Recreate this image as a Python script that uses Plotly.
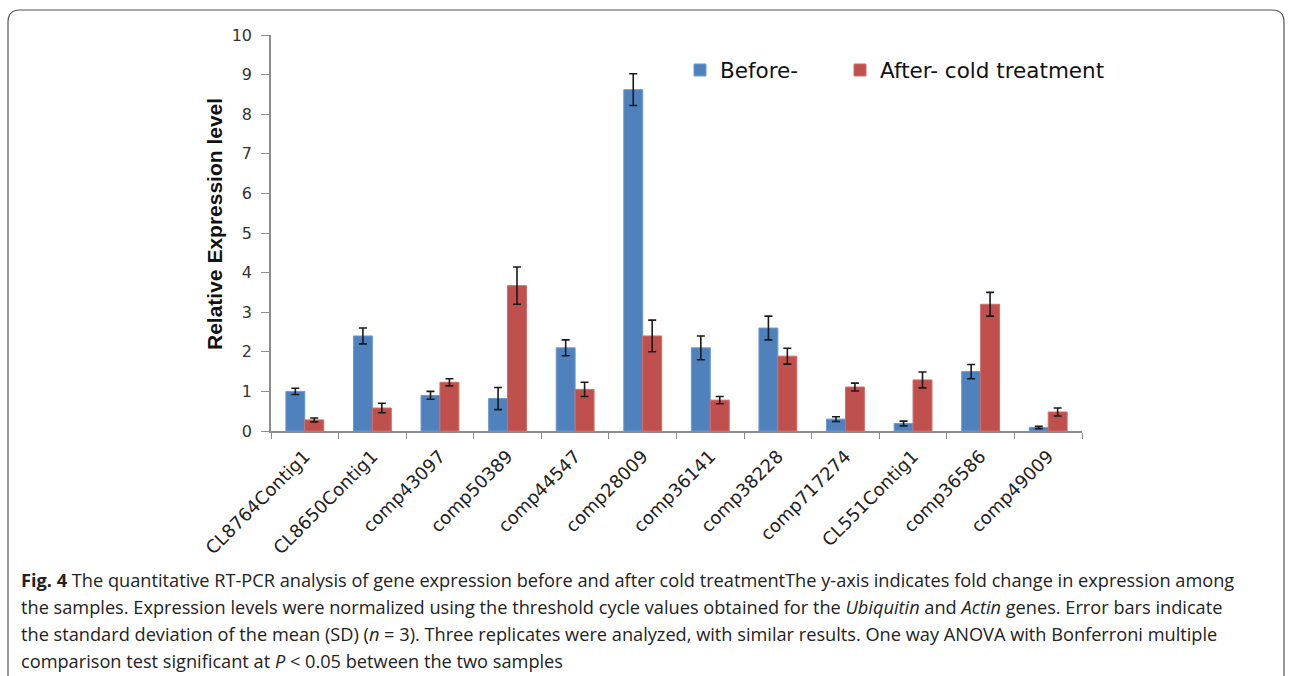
import plotly.graph_objects as go

# Genes and relative expression (mean ± SD, n = 3)
genes = ["CL8764Contig1", "CL8650Contig1", "comp43097", "comp50389", "comp44547",
         "comp28009", "comp36141", "comp38228", "comp717274", "CL551Contig1",
         "comp36586", "comp49009"]
before_vals = [1.0, 2.4, 0.9, 0.82, 2.1, 8.62, 2.1, 2.6, 0.3, 0.19, 1.5, 0.09]
before_sd = [0.08, 0.2, 0.1, 0.28, 0.2, 0.4, 0.3, 0.3, 0.06, 0.06, 0.18, 0.03]
after_vals = [0.28, 0.58, 1.23, 3.67, 1.05, 2.4, 0.78, 1.89, 1.11, 1.29, 3.2, 0.48]
after_sd = [0.05, 0.12, 0.09, 0.47, 0.18, 0.4, 0.09, 0.2, 0.1, 0.2, 0.3, 0.1]
y_ticks = list(range(0, 11))

W, H = 1292, 676
L, R, T, B = 271, 1082, 35, 431   # plot area in pixels
pw, ph = R - L, B - T


def px(x):
    return (x - L) / pw


def py(y):
    return 1 - (y - T) / ph


BLUE = "#4F81BD"
RED = "#C0504D"
WIDE = "DejaVu Sans, Verdana, sans-serif"
ARIAL = "Liberation Sans, Arial, sans-serif"

fig = go.Figure()
fig.add_trace(go.Bar(
    x=genes, y=before_vals, name="Before-", legend="legend",
    marker=dict(color=BLUE, line=dict(color="#6C9AD3", width=1)),
    error_y=dict(type="data", array=before_sd, color="#1a1a1a", thickness=1.6, width=4),
))
fig.add_trace(go.Bar(
    x=genes, y=after_vals, name="After- cold treatment", legend="legend2",
    marker=dict(color=RED, line=dict(color="#D46A66", width=1)),
    error_y=dict(type="data", array=after_sd, color="#1a1a1a", thickness=1.6, width=4),
))

# rounded frame around figure and caption
x0, x1, y0, y1, r = 8, 1284, 10, 690, 12
path = (f"M {px(x0 + r)} {py(y0)} L {px(x1 - r)} {py(y0)} "
        f"Q {px(x1)} {py(y0)} {px(x1)} {py(y0 + r)} L {px(x1)} {py(y1 - r)} "
        f"Q {px(x1)} {py(y1)} {px(x1 - r)} {py(y1)} L {px(x0 + r)} {py(y1)} "
        f"Q {px(x0)} {py(y1)} {px(x0)} {py(y1 - r)} L {px(x0)} {py(y0 + r)} "
        f"Q {px(x0)} {py(y0)} {px(x0 + r)} {py(y0)} Z")

caption = [
    "<b>Fig. 4</b> The quantitative RT-PCR analysis of gene expression before and after cold treatmentThe y-axis indicates fold change in expression among",
    "the samples. Expression levels were normalized using the threshold cycle values obtained for the <i>Ubiquitin</i> and <i>Actin</i> genes. Error bars indicate",
    "the standard deviation of the mean (SD) (<i>n</i> = 3). Three replicates were analyzed, with similar results. One way ANOVA with Bonferroni multiple",
    "comparison test significant at <i>P</i> &lt; 0.05 between the two samples",
]
cap_y = [580, 607, 634, 661]
annotations = []
for line, yy in zip(caption, cap_y):
    annotations.append(dict(
        text=line, x=px(19), y=py(yy), xref="paper", yref="paper",
        xanchor="left", yanchor="middle", showarrow=False,
        font=dict(family="Open Sans, sans-serif", size=18.2, color="#222"),
    ))
annotations.append(dict(
    text="<b>Relative Expression level</b>", x=px(214), y=py(224), xref="paper", yref="paper",
    textangle=-90, showarrow=False, xanchor="center", yanchor="middle",
    font=dict(family=ARIAL, size=21, color="#111"),
))

legend_common = dict(
    orientation="h", xanchor="left", yanchor="middle",
    font=dict(family=WIDE, size=21.5, color="#111"), bgcolor="rgba(0,0,0,0)",
)

fig.update_layout(
    width=W, height=H,
    margin=dict(l=L, r=W - R, t=T, b=H - B, pad=0),
    paper_bgcolor="white", plot_bgcolor="white",
    barmode="group", bargap=0.44, bargroupgap=0,
    font=dict(family=WIDE, color="#333"),
    showlegend=True,
    legend=dict(x=px(680), y=py(70), **legend_common),
    legend2=dict(x=px(840), y=py(70), **legend_common),
    xaxis=dict(
        type="category", tickangle=-45, tickson="boundaries",
        ticks="outside", ticklen=6, tickcolor="#8c8c8c",
        showline=True, linecolor="#8c8c8c", linewidth=1.5,
        tickfont=dict(family=WIDE, size=18, color="#222"), showgrid=False,
        ticklabelstandoff=6,
    ),
    yaxis=dict(
        range=[0, 10], tickvals=y_ticks, ticks="outside", ticklen=8, tickcolor="#8c8c8c",
        showline=True, linecolor="#8c8c8c", linewidth=1.5, showgrid=False, zeroline=False,
        tickfont=dict(family=WIDE, size=16, color="#333"), ticklabelstandoff=6,
    ),
    shapes=[dict(type="path", path=path, xref="paper", yref="paper",
                 line=dict(color="#555", width=1.2), layer="below")],
    annotations=annotations,
)

fig.write_html("out.html")
